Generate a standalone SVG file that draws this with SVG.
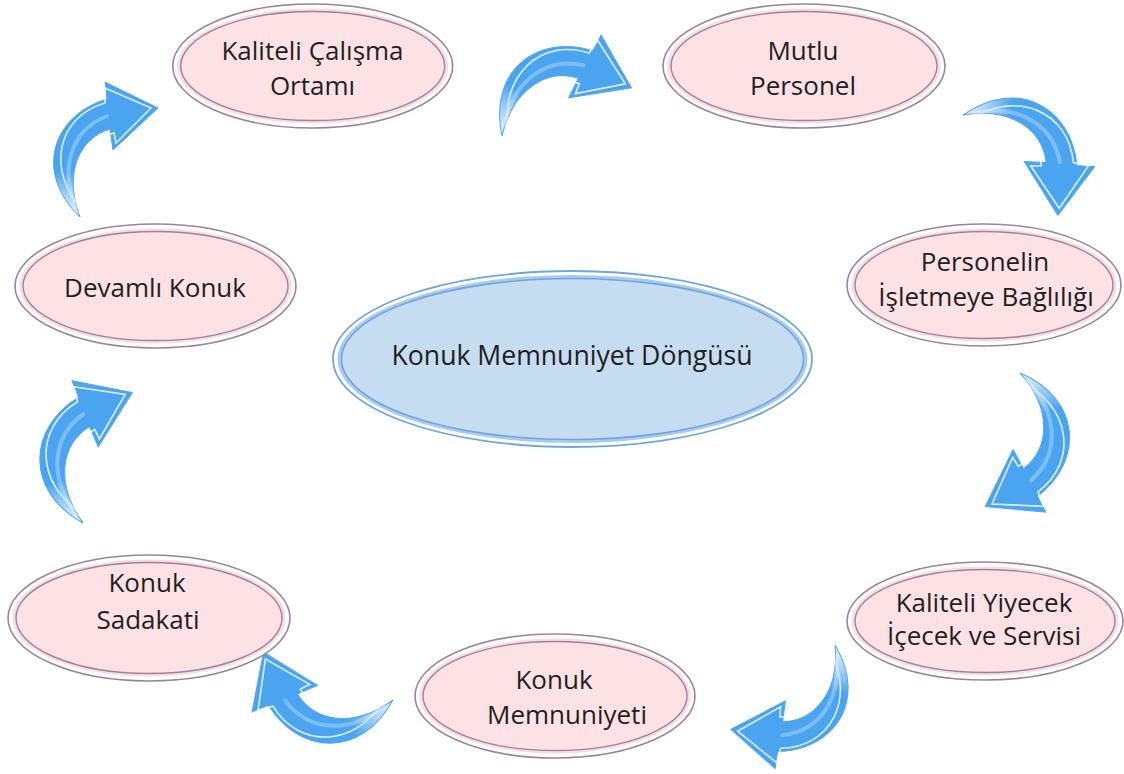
<svg xmlns="http://www.w3.org/2000/svg" width="1124" height="774" viewBox="0 0 1124 774">
<style>
  .o { fill: #ffffff; stroke: #9d8399; stroke-width: 1.6; }
  .m { fill: #fadbdf; stroke: none; }
  .i { fill: #fde2e5; stroke: #9d8399; stroke-width: 1.4; }
  .co { fill: #ffffff; stroke: #6ea6e2; stroke-width: 1.8; }
  .cm { fill: #a9cbed; stroke: none; }
  .ci { fill: #c5dcf1; stroke: #6ea6e2; stroke-width: 1.6; }
  text { font-family: "Open Sans", "Noto Sans", "Liberation Sans", sans-serif; font-size: 26px; fill: #231f20; text-anchor: middle; }
  .big { font-size: 26.6px; }
</style>
<defs>
  <linearGradient id="fade" gradientUnits="userSpaceOnUse" x1="0" y1="0" x2="0" y2="-45">
    <stop offset="0" stop-color="#6ab4f2" stop-opacity="0.15"/>
    <stop offset="1" stop-color="#4aa4ef" stop-opacity="1"/>
  </linearGradient>
  <linearGradient id="hl" gradientUnits="userSpaceOnUse" x1="0" y1="0" x2="0" y2="-40">
    <stop offset="0" stop-color="#ffffff" stop-opacity="0"/>
    <stop offset="1" stop-color="#ffffff" stop-opacity="0.8"/>
  </linearGradient>
  <g id="arrow">
    <path d="M0,0 C -47,-45 -27,-102 27,-118 L 25,-135 L 78,-109 L 33,-67 L 30,-88 C 0,-79 -17,-45 0,0 Z" fill="url(#fade)" stroke="#52a6ee" stroke-width="1"/>
    <path d="M -3,-10 C -20,-42 -12,-86 27,-101" fill="none" stroke="#ffffff" stroke-opacity="0.28" stroke-width="4" stroke-linecap="round"/>
    <path d="M 2,-8 C -34,-47 -23,-100 25,-114 L 25,-129 L 71,-109 L 36,-74 L 34,-84 C 4,-77 -8,-45 2,-8" fill="none" stroke="url(#hl)" stroke-width="1.6" stroke-linejoin="miter"/>
  </g>
</defs>

<g id="connectors">
  <use href="#arrow" transform="translate(80,217)"/>
  <use href="#arrow" transform="translate(502,136) rotate(34) scale(1.03)"/>
  <use href="#arrow" transform="translate(963,115) rotate(101) scale(1.03)"/>
  <use href="#arrow" transform="translate(1020,373) rotate(159) scale(1.03)"/>
  <use href="#arrow" transform="translate(835,645) rotate(195.4)"/>
  <use href="#arrow" transform="translate(393,700) rotate(254.7) scale(1.03)"/>
  <use href="#arrow" transform="translate(83,523) rotate(-14.9) scale(1.04)"/>
</g>

<g id="center">
  <ellipse class="co" cx="572.5" cy="359" rx="239.5" ry="88"/>
  <ellipse class="cm" cx="572.5" cy="359" rx="235" ry="84"/>
  <ellipse class="ci" cx="572.5" cy="359" rx="231" ry="80.5"/>
  <text class="big" x="572" y="365">Konuk Memnuniyet Döngüsü</text>
</g>

<g id="n1">
  <ellipse class="o" cx="312.7" cy="66" rx="140" ry="62"/>
  <ellipse class="m" cx="312.7" cy="66" rx="135.5" ry="57.5"/>
  <ellipse class="i" cx="312.7" cy="66" rx="132" ry="54.5"/>
  <text x="312.5" y="60">Kaliteli Çalışma</text>
  <text x="312.5" y="95">Ortamı</text>
</g>

<g id="n2">
  <ellipse class="o" cx="804" cy="66" rx="141" ry="62"/>
  <ellipse class="m" cx="804" cy="66" rx="136.5" ry="57.5"/>
  <ellipse class="i" cx="804" cy="66" rx="133" ry="54.5"/>
  <text x="803" y="60">Mutlu</text>
  <text x="803" y="95">Personel</text>
</g>

<g id="n3">
  <ellipse class="o" cx="984" cy="285" rx="137" ry="61"/>
  <ellipse class="m" cx="984" cy="285" rx="132.5" ry="56.5"/>
  <ellipse class="i" cx="984" cy="285" rx="129" ry="53.5"/>
  <text x="985" y="271">Personelin</text>
  <text x="986" y="306">İşletmeye Bağlılığı</text>
</g>

<g id="n4">
  <ellipse class="o" cx="985" cy="621" rx="138" ry="59"/>
  <ellipse class="m" cx="985" cy="621" rx="133.5" ry="54.5"/>
  <ellipse class="i" cx="985" cy="621" rx="130" ry="51.5"/>
  <text x="984" y="612">Kaliteli Yiyecek</text>
  <text x="984" y="645">İçecek ve Servisi</text>
</g>

<g id="n5">
  <ellipse class="o" cx="555" cy="696" rx="140" ry="62"/>
  <ellipse class="m" cx="555" cy="696" rx="135.5" ry="57.5"/>
  <ellipse class="i" cx="555" cy="696" rx="132" ry="54.5"/>
  <text x="554" y="689">Konuk</text>
  <text x="567" y="724">Memnuniyeti</text>
</g>

<g id="n6">
  <ellipse class="o" cx="149" cy="618" rx="141" ry="63"/>
  <ellipse class="m" cx="149" cy="618" rx="136.5" ry="58.5"/>
  <ellipse class="i" cx="149" cy="618" rx="133" ry="55.5"/>
  <text x="147" y="592">Konuk</text>
  <text x="148" y="629">Sadakati</text>
</g>

<g id="n7">
  <ellipse class="o" cx="155.5" cy="286" rx="140.5" ry="62"/>
  <ellipse class="m" cx="155.5" cy="286" rx="136" ry="57.5"/>
  <ellipse class="i" cx="155.5" cy="286" rx="132.5" ry="54.5"/>
  <text x="155" y="297">Devamlı Konuk</text>
</g>
</svg>
